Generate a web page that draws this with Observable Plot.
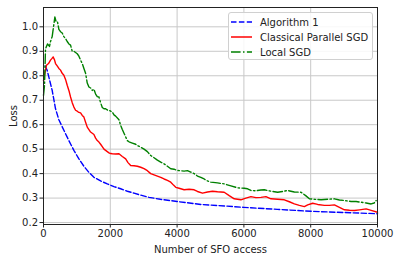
<!DOCTYPE html>
<html><head><meta charset="utf-8">
<script src="https://cdn.jsdelivr.net/npm/d3@7"></script>
<script src="https://cdn.jsdelivr.net/npm/@observablehq/plot@0.6"></script>
<style>
body{margin:0;background:#fff;font-family:"DejaVu Sans",sans-serif;}
#wrap{position:relative;width:399px;height:261px;}
#legend{position:absolute;left:228px;top:12px;width:143px;height:46px;border:1px solid #d0d0d0;border-radius:3px;background:rgba(255,255,255,0.85);font-size:10px;color:#222;}
#legend .row{position:absolute;left:0;height:14px;display:flex;align-items:center;}
#legend svg{margin-left:2px;margin-right:8px;}
</style></head>
<body><div id="wrap"><div id="legend"></div></div>
<script>
const seriesNames = ["Algorithm 1", "Classical Parallel SGD", "Local SGD"];
const seriesColors = ["blue", "red", "green"];
const seriesDash = ["5.5,2.4", null, "9.6,2.4,1.5,2.4"];
const xTicks = [0, 2000, 4000, 6000, 8000, 10000];
const yTicks = [0.2, 0.3, 0.4, 0.5, 0.6, 0.7, 0.8, 0.9, 1.0];

const algoX = [50,110,260,360,460,610,760,910,1060,1210,1360,1510,1710,1910,2110,2310,2510,2710,2910,3160,3500,4000,4710,5500,6000,7000,8000,9000,10000];
const algoY = [0.84,0.822,0.74,0.665,0.62,0.577,0.535,0.495,0.46,0.43,0.405,0.385,0.37,0.358,0.347,0.338,0.328,0.32,0.312,0.303,0.295,0.286,0.274,0.267,0.262,0.254,0.246,0.241,0.236];

const parX = [0,40,90,150,210,250,290,330,360,410,460,510,560,610,660,710,760,810,860,910,960,1010,1060,1110,1160,1210,1260,1310,1360,1410,1460,1510,1560,1610,1660,1710,1760,1810,1860,1910,1960,2010,2060,2160,2260,2360,2460,2530,2610,2710,2810,2910,3010,3110,3210,3310,3410,3510,3610,3710,3810,3900,3960,4060,4210,4360,4510,4610,4760,4910,5060,5210,5410,5560,5710,5910,6060,6210,6360,6510,6660,6810,7010,7210,7360,7510,7660,7810,7910,8060,8210,8410,8560,8710,8860,9010,9160,9310,9460,9660,9810,10000];
const parY = [0.78,0.81,0.843,0.85,0.864,0.87,0.877,0.865,0.85,0.84,0.83,0.823,0.81,0.802,0.785,0.761,0.74,0.713,0.69,0.672,0.659,0.655,0.65,0.648,0.638,0.631,0.61,0.59,0.58,0.57,0.565,0.56,0.545,0.535,0.529,0.52,0.51,0.5,0.495,0.49,0.485,0.482,0.481,0.48,0.481,0.47,0.46,0.445,0.433,0.432,0.43,0.426,0.42,0.412,0.4,0.395,0.39,0.385,0.378,0.372,0.365,0.352,0.344,0.34,0.334,0.336,0.334,0.327,0.32,0.325,0.328,0.326,0.324,0.31,0.297,0.293,0.3,0.306,0.302,0.303,0.306,0.297,0.295,0.293,0.285,0.276,0.27,0.265,0.272,0.279,0.274,0.27,0.27,0.272,0.262,0.252,0.25,0.249,0.252,0.256,0.25,0.242];

const locX = [0,30,60,120,180,210,260,300,340,380,420,460,510,560,610,660,710,760,810,860,910,960,1010,1060,1110,1160,1210,1260,1310,1360,1410,1460,1510,1560,1610,1660,1710,1760,1810,1860,1910,1960,2010,2060,2110,2160,2260,2310,2360,2410,2460,2510,2560,2660,2760,2810,2910,3010,3110,3210,3310,3410,3510,3610,3710,3810,3910,4010,4110,4210,4310,4410,4510,4610,4710,4810,4910,5010,5210,5410,5610,5810,6010,6110,6210,6360,6510,6610,6810,7010,7160,7310,7510,7710,7850,7960,8110,8310,8510,8710,8860,9010,9210,9360,9510,9660,9810,9900,9960];
const locY = [0.72,0.76,0.91,0.93,0.92,0.94,0.96,1.0,1.04,1.02,1.02,0.99,0.98,0.975,0.96,0.952,0.94,0.93,0.925,0.9,0.9,0.895,0.89,0.88,0.864,0.85,0.83,0.81,0.77,0.754,0.75,0.74,0.745,0.725,0.715,0.713,0.69,0.67,0.665,0.665,0.66,0.659,0.655,0.652,0.64,0.635,0.62,0.597,0.58,0.565,0.55,0.535,0.53,0.525,0.52,0.515,0.508,0.5,0.49,0.474,0.465,0.455,0.447,0.44,0.43,0.42,0.418,0.413,0.412,0.41,0.412,0.406,0.4,0.39,0.385,0.378,0.37,0.365,0.362,0.358,0.35,0.342,0.34,0.338,0.331,0.33,0.333,0.334,0.328,0.324,0.327,0.331,0.325,0.324,0.31,0.297,0.295,0.293,0.295,0.297,0.292,0.29,0.286,0.286,0.283,0.28,0.276,0.28,0.29];

const toRows = (xs, ys, s) => xs.map((x, i) => ({x, y: ys[i], s}));
const allX = [algoX, parX, locX];
const allY = [algoY, parY, locY];

const marks = [
  Plot.gridX(xTicks, {stroke: "#c8c8c8", strokeOpacity: 1, strokeWidth: 1}),
  Plot.gridY(yTicks, {stroke: "#c8c8c8", strokeOpacity: 1, strokeWidth: 1}),
];
seriesNames.forEach((name, i) => {
  marks.push(Plot.line(toRows(allX[i], allY[i], name), {
    x: "x", y: "y", stroke: seriesColors[i], strokeWidth: 1.4,
    strokeDasharray: seriesDash[i] || undefined, strokeLinejoin: "round"
  }));
});
marks.push(
  Plot.axisX(xTicks, {tickFormat: "d", tickSize: 3.5, tickPadding: 2, fontSize: 10, label: "Number of SFO access", labelAnchor: "center", labelArrow: "none", labelOffset: 28, color: "#222"}),
  Plot.axisY(yTicks, {tickFormat: ".1f", tickSize: 3.5, tickPadding: 2, fontSize: 10, label: "Loss", labelAnchor: "center", labelArrow: "none", labelOffset: 34, color: "#222"}),
  Plot.frame({stroke: "#222", strokeWidth: 1})
);

const chart = Plot.plot({
  width: 399, height: 261,
  marginLeft: 43, marginRight: 22, marginTop: 7, marginBottom: 37,
  x: {domain: [0, 10000]},
  y: {domain: [0.192, 1.079]},
  style: {fontFamily: "DejaVu Sans", fontSize: "10px", background: "white", color: "#222"},
  marks
});
document.getElementById("wrap").prepend(chart);

const leg = document.getElementById("legend");
seriesNames.forEach((name, i) => {
  const row = document.createElement("div");
  row.className = "row";
  row.style.top = (2 + i * 15) + "px";
  const dash = seriesDash[i] ? ` stroke-dasharray="${seriesDash[i]}"` : "";
  row.innerHTML = `<svg width="21" height="6"><line x1="0" y1="3" x2="21" y2="3" stroke="${seriesColors[i]}" stroke-width="1.5"${dash}/></svg><span>${name}</span>`;
  leg.appendChild(row);
});
</script></body></html>
